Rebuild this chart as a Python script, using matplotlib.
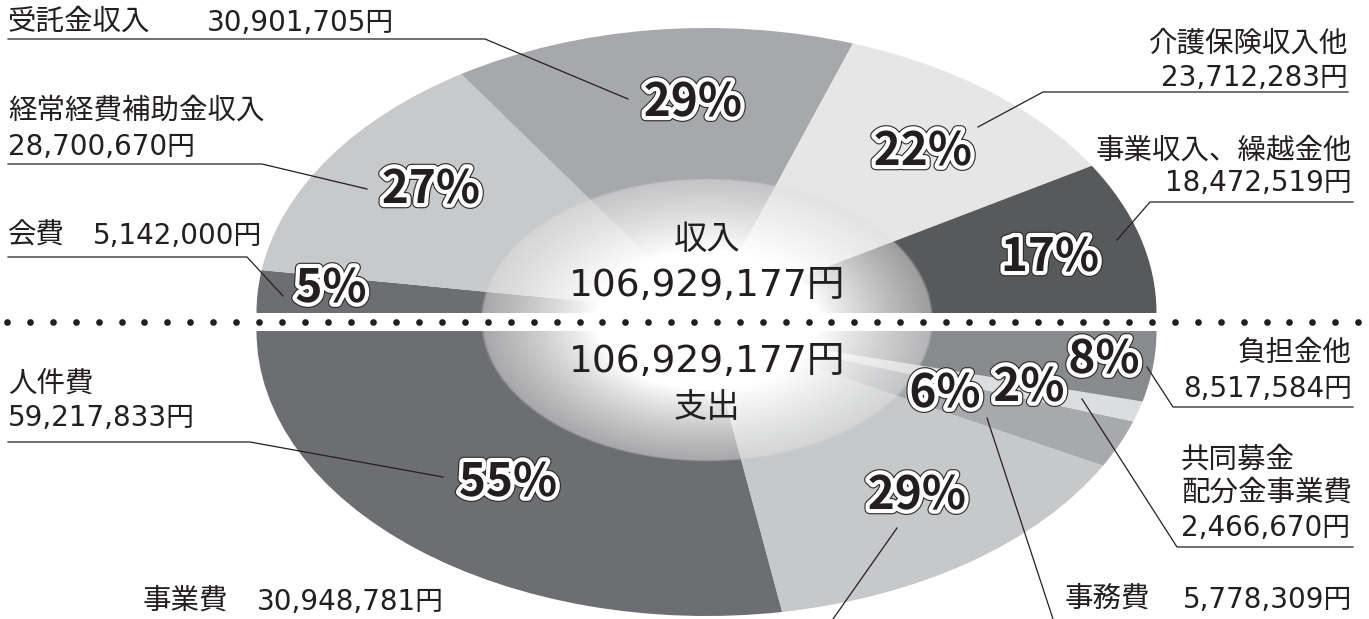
#!/usr/bin/env python3
"""
収支の円グラフ（上半分: 収入 / 下半分: 支出）
"""

import numpy as np
import matplotlib
matplotlib.use('Agg')
import matplotlib.pyplot as plt
import matplotlib.patheffects as pe
from matplotlib.patches import Rectangle

plt.rcParams['font.family'] = ['Noto Sans CJK JP', 'DejaVu Sans']

# ---- data -------------------------------------------------------------
total = 106929177

# 収入: 上半分、左から時計回り
income_labels = ['会費', '経常経費補助金収入', '受託金収入', '介護保険収入他', '事業収入、繰越金他']
income_amounts = [5142000, 28700670, 30901705, 23712283, 18472519]
income_pct = ['5%', '27%', '29%', '22%', '17%']
income_colors = ['#6d6e71', '#c8c9cb', '#a7a8ab', '#e6e6e7', '#58595b']

# 支出: 下半分、左から反時計回り
expense_labels = ['人件費', '事業費', '事務費', '共同募金\n配分金事業費', '負担金他']
expense_amounts = [59217833, 30948781, 5778309, 2466670, 8517584]
expense_pct = ['55%', '29%', '6%', '2%', '8%']
expense_colors = ['#6d6e71', '#c7c8ca', '#a7a9ac', '#dcdddf', '#898a8d']

# ---- layout (pixel coordinates, y downward) ---------------------------
W, H = 1369, 619
CX, RX, RY = 706.5, 450, 285
MID = 322            # reference line for the pie axes
TOP_CY, BOT_CY = 313, 331

# name lines: (x, ha) + y centres; amount: (x, y, ha); leader polyline; pct position
layout = {
    '受託金収入': dict(x=8, ha='left', ys=[22], amt=(207, 22, 'left'),
                  line=[(8, 39), (485, 39), (628, 99)], pct=(693, 103)),
    '経常経費補助金収入': dict(x=8, ha='left', ys=[111], amt=(8, 146, 'left'),
                      line=[(8, 164), (262, 164), (367, 189)], pct=(431, 190)),
    '会費': dict(x=8, ha='left', ys=[235], amt=(93, 235, 'left'),
               line=[(8, 257), (247, 257), (283, 296)], pct=(331, 289)),
    '介護保険収入他': dict(x=1348, ha='right', ys=[44], amt=(1348, 77, 'right'),
                    line=[(1348, 92), (1043, 92), (978, 127)], pct=(923, 152)),
    '事業収入、繰越金他': dict(x=1352, ha='right', ys=[151], amt=(1352, 182, 'right'),
                      line=[(1353, 202), (1150, 202), (1117, 240)], pct=(1050, 258)),
    '人件費': dict(x=8, ha='left', ys=[384], amt=(8, 417, 'left'),
                line=[(8, 442), (250, 442), (443, 477)], pct=(508, 483)),
    '事業費': dict(x=143, ha='left', ys=[601], amt=(257, 601, 'left'),
                line=[(833, 619), (897, 528)], pct=(917, 496)),
    '事務費': dict(x=1065, ha='left', ys=[599], amt=(1352, 599, 'right'),
                line=[(1053, 619), (987, 418)], pct=(945, 394)),
    '共同募金\n配分金事業費': dict(x=1181, ha='left', ys=[460, 493], amt=(1181, 527, 'left'),
                         line=[(1353, 547), (1177, 547), (1082, 399)], pct=(1029, 388)),
    '負担金他': dict(x=1352, ha='right', ys=[353], amt=(1352, 388, 'right'),
                 line=[(1353, 407), (1173, 407), (1147, 367)], pct=(1104, 360)),
}

TEXT = '#231f20'
num_font = ['DejaVu Sans', 'Noto Sans CJK JP']

fig = plt.figure(figsize=(W / 100, H / 100), dpi=100)

# pie axes: one unit = RX px horizontally, RY px vertically
ax = fig.add_axes([0, 0, 1, 1])
top_c = (0, (MID - TOP_CY) / RY)
bot_c = (0, (MID - BOT_CY) / RY)

w_top, _ = ax.pie(income_amounts + [total], colors=income_colors + ['w'],
                  startangle=180, counterclock=False, center=top_c,
                  wedgeprops=dict(linewidth=0))
w_top[-1].set_visible(False)
w_bot, _ = ax.pie(expense_amounts + [total], colors=expense_colors + ['w'],
                  startangle=180, counterclock=True, center=bot_c,
                  wedgeprops=dict(linewidth=0))
w_bot[-1].set_visible(False)

# white radial glow in the middle
n = 500
gx, gy = np.meshgrid(np.linspace(-1, 1, n), np.linspace(-1, 1, n))
r = np.hypot(gx, gy)
shade = 1 - 0.12 * np.clip((r - 0.5) / 0.5, 0, 1) ** 1.5
alpha = (1 - 0.5 * np.clip((r - 0.5) / 0.5, 0, 1) ** 0.8) * np.clip((1 - r) * 80, 0, 1)
glow = np.dstack([shade, shade, shade, alpha])
gcx, gcy, grx, gry = 0, (MID - 320) / RY, 227 / RX, 142 / RY
ax.imshow(glow, extent=[gcx - grx, gcx + grx, gcy - gry, gcy + gry],
          interpolation='bilinear', aspect='auto', zorder=3)

ax.set_aspect('auto')
ax.set_xlim(-CX / RX, (W - CX) / RX)
ax.set_ylim((MID - H) / RY, MID / RY)
ax.axis('off')

# overlay axes in pixel coordinates
ov = fig.add_axes([0, 0, 1, 1], zorder=2)
ov.set_xlim(0, W)
ov.set_ylim(H, 0)
ov.axis('off')
ov.patch.set_alpha(0)

# gap between the halves with the dotted line
ov.add_patch(Rectangle((0, 313), W, 18, facecolor='white', edgecolor='none', zorder=1))
dots_x = np.arange(7, W, 22.9)
ov.plot(dots_x, np.full_like(dots_x, 321.5), 'o', color=TEXT, markersize=4.8,
        markeredgewidth=0, zorder=2)

pct_effects = [pe.Stroke(linewidth=7.6, foreground='#2a2a2a'),
               pe.Stroke(linewidth=6.0, foreground='white'),
               pe.Normal()]

for labels, amounts, pcts in [(income_labels, income_amounts, income_pct),
                              (expense_labels, expense_amounts, expense_pct)]:
    for name, amt, pct in zip(labels, amounts, pcts):
        spec = layout[name]
        for txt, y in zip(name.split('\n'), spec['ys']):
            ov.text(spec['x'], y, txt, ha=spec['ha'], va='center',
                    fontsize=20.5, color=TEXT, zorder=5)
        ax_, ay_, aha = spec['amt']
        ov.text(ax_, ay_ + 1, f'{amt:,}円', ha=aha, va='center', family=num_font,
                fontsize=20, color=TEXT, zorder=5)
        xs, ys = zip(*spec['line'])
        ov.plot(xs, ys, color=TEXT, linewidth=0.9, zorder=4)
        px, py = spec['pct']
        ov.text(px, py, pct, ha='center', va='center', fontsize=33,
                fontweight='bold', color=TEXT, path_effects=pct_effects, zorder=6)

# centre totals
ov.text(707, 240, '収入', ha='center', va='center', fontsize=24, color=TEXT, zorder=5)
ov.text(707, 286, f'{total:,}円', ha='center', va='center', fontsize=27,
        family=num_font, color=TEXT, zorder=5)
ov.text(707, 362, f'{total:,}円', ha='center', va='center', fontsize=27,
        family=num_font, color=TEXT, zorder=5)
ov.text(707, 407, '支出', ha='center', va='center', fontsize=24, color=TEXT, zorder=5)

fig.savefig('out.png', dpi=100)
